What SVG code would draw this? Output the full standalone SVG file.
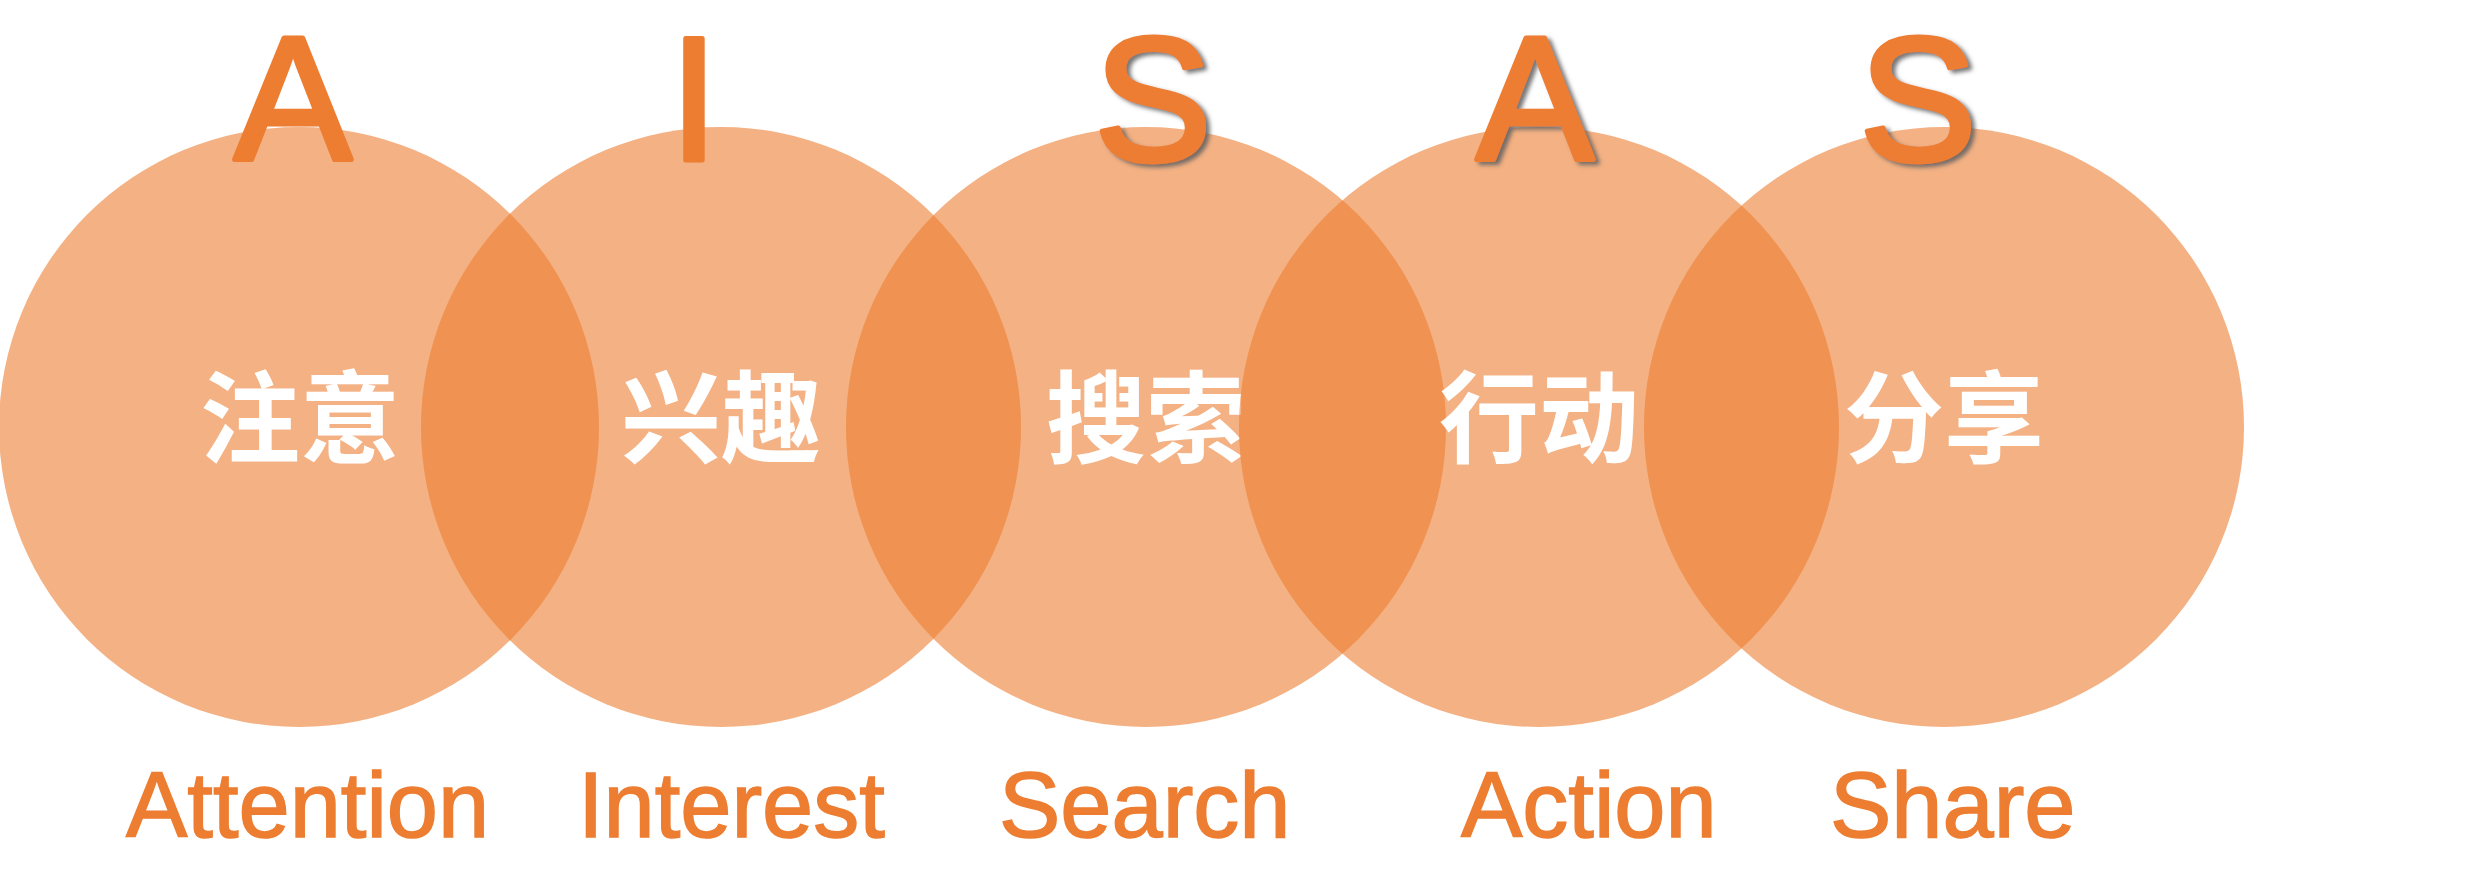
<svg xmlns="http://www.w3.org/2000/svg" width="2468" height="869" viewBox="0 0 2468 869">
  <defs>
    <filter id="shadow" x="-20%" y="-20%" width="140%" height="140%">
      <feDropShadow dx="4" dy="3" stdDeviation="2" flood-color="#5f5f5f" flood-opacity="0.85"/>
    </filter>
  </defs>
  <style>
    .circle { fill: #ED7D31; fill-opacity: 0.6; }
    .big { font-family: "Liberation Sans", Arial, sans-serif; font-size: 176px; fill: #ED7D31; stroke: #ED7D31; stroke-width: 5px; stroke-linejoin: round; text-anchor: middle; }
    .shadowed { filter: url(#shadow); }
    .cn { font-family: "Noto Sans CJK SC", "Noto Sans", sans-serif; font-size: 100px; font-weight: 700; fill: #FFFFFF; text-anchor: middle; }
    .en { font-family: "Liberation Sans", Arial, sans-serif; font-size: 92px; fill: #ED7D31; stroke: #ED7D31; stroke-width: 1.5px; }
  </style>
  <rect width="2468" height="869" fill="#FFFFFF"/>
  <g id="node-attention">
    <circle class="circle" cx="299" cy="427" r="300"/>
    <text class="big" x="293" y="160">A</text>
    <text class="cn" x="300" y="455">注意</text>
    <text class="en" x="126" y="837">Attention</text>
  </g>
  <g id="node-interest">
    <circle class="circle" cx="721" cy="427" r="300"/>
    <text class="big" x="694" y="160">I</text>
    <text class="cn" x="721" y="455">兴趣</text>
    <text class="en" x="578" y="837">Interest</text>
  </g>
  <g id="node-search">
    <circle class="circle" cx="1146" cy="427" r="300"/>
    <text class="big shadowed" x="1153" y="160">S</text>
    <text class="cn" x="1146" y="455">搜索</text>
    <text class="en" x="999" y="837">Search</text>
  </g>
  <g id="node-action">
    <circle class="circle" cx="1539" cy="427" r="300"/>
    <text class="big shadowed" x="1535" y="160">A</text>
    <text class="cn" x="1539" y="455">行动</text>
    <text class="en" x="1461" y="837">Action</text>
  </g>
  <g id="node-share">
    <circle class="circle" cx="1944" cy="427" r="300"/>
    <text class="big shadowed" x="1918" y="160">S</text>
    <text class="cn" x="1944" y="455">分享</text>
    <text class="en" x="1830" y="837">Share</text>
  </g>
  <g id="connectors"/>
</svg>
